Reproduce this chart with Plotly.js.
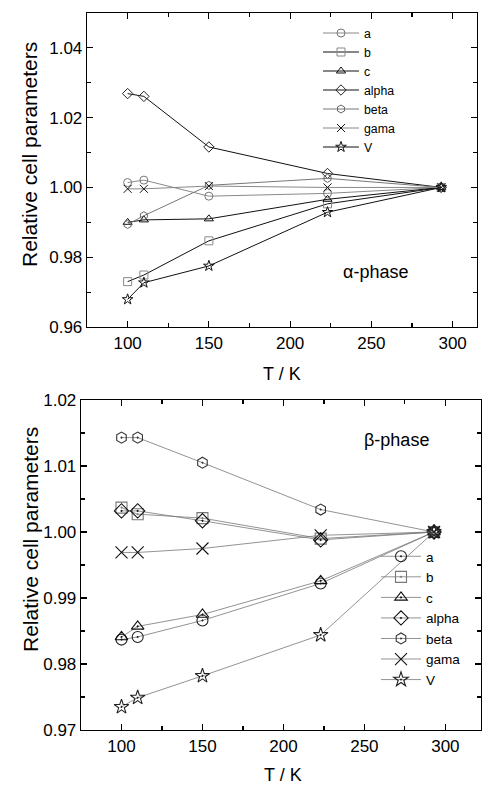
<!DOCTYPE html>
<html><head><meta charset="utf-8">
<script src="https://cdn.plot.ly/plotly-3.0.1.min.js"></script>
<style>html,body{margin:0;padding:0;background:#fff}#c{width:482px;height:785px}</style>
</head><body><div id="c"></div>
<script>
const T = [100, 110, 150, 223, 293];
const names = ['a', 'b', 'c', 'alpha', 'beta', 'gama', 'V'];
// alpha-phase
const topA     = [1.0014, 1.0021, 0.9975, 0.9983, 1.0000];
const topB     = [0.9730, 0.9749, 0.9847, 0.9953, 1.0000];
const topC     = [0.9900, 0.9907, 0.9910, 0.9966, 1.0000];
const topAlpha = [1.0269, 1.0261, 1.0116, 1.0040, 1.0000];
const topBeta  = [0.9894, 0.9919, 1.0006, 1.0026, 1.0000];
const topGama  = [0.9996, 0.9996, 1.0004, 1.0000, 1.0000];
const topV     = [0.9679, 0.9727, 0.9775, 0.9929, 1.0000];
// beta-phase
const botA     = [0.9837, 0.9841, 0.9866, 0.9922, 1.0000];
const botB     = [1.0037, 1.0027, 1.0021, 0.9990, 1.0000];
const botC     = [0.9841, 0.9857, 0.9875, 0.9926, 1.0000];
const botAlpha = [1.0032, 1.0032, 1.0017, 0.9988, 1.0000];
const botBeta  = [1.0143, 1.0143, 1.0105, 1.0034, 1.0000];
const botGama  = [0.9969, 0.9969, 0.9975, 0.9995, 1.0000];
const botV     = [0.9735, 0.9749, 0.9782, 0.9844, 1.0000];

const topSeries = [topA, topB, topC, topAlpha, topBeta, topGama, topV];
const botSeries = [botA, botB, botC, botAlpha, botBeta, botGama, botV];
const topSym = ['circle-open','square-open','triangle-up-open','diamond-open','hexagon-open','x-thin-open','star-open'];
const botSym = ['circle-open-dot','square-open-dot','triangle-up-open-dot','diamond-open-dot','hexagon-open-dot','x-thin-open','star-open-dot'];
const topLine = ['#8a8a8a','#111','#111','#111','#777','#888','#111'];
const topMark = ['#777','#888','#111','#222','#666','#111','#111'];
const botMark = ['#222','#777','#111','#111','#333','#111','#222'];

const F = '"Liberation Sans", Arial, sans-serif';
const traces = [];
names.forEach((n, i) => {
  traces.push({
    x: T, y: topSeries[i], name: n, type: 'scatter', mode: 'lines+markers',
    xaxis: 'x', yaxis: 'y', legend: 'legend',
    line: {color: topLine[i], width: 1},
    marker: {symbol: topSym[i], size: 8, color: topMark[i], line: {color: topMark[i], width: 1}}
  });
});
names.forEach((n, i) => {
  traces.push({
    x: T, y: botSeries[i], name: n, type: 'scatter', mode: 'lines+markers',
    xaxis: 'x2', yaxis: 'y2', legend: 'legend2',
    line: {color: '#777', width: 0.8},
    marker: {symbol: botSym[i], size: (i === 5 ? 12 : 11), color: botMark[i], line: {color: botMark[i], width: 1.1}}
  });
});

const W = 482, H = 785;
const px = v => v / W, py = v => 1 - v / H;
const axBase = {
  showgrid: false, zeroline: false, showline: true, linecolor: '#000', linewidth: 1.3,
  mirror: 'allticks', ticks: 'inside', ticklen: 6, tickwidth: 1.2, tickcolor: '#000',
  tickfont: {family: F, size: 17, color: '#000'}, automargin: false
};
const layout = {
  width: W, height: H, margin: {l: 0, r: 0, t: 0, b: 0},
  paper_bgcolor: '#fff', plot_bgcolor: '#fff', font: {family: F, color: '#000'},
  xaxis: Object.assign({}, axBase, {domain: [px(87), px(477)], range: [75, 315], anchor: 'y',
    tickvals: [100,150,200,250,300], minor: {tickvals: [125,175,225,275], ticks: 'inside', ticklen: 4, tickcolor: '#000'}}),
  yaxis: Object.assign({}, axBase, {domain: [py(327), py(13)], range: [0.96, 1.05], anchor: 'x',
    tickvals: [0.96,0.98,1.00,1.02,1.04], ticktext: ['0.96','0.98','1.00','1.02','1.04'],
    minor: {tickvals: [0.97,0.99,1.01,1.03], ticks: 'inside', ticklen: 4, tickcolor: '#000'}}),
  xaxis2: Object.assign({}, axBase, {domain: [px(81), px(481)], range: [75, 322], anchor: 'y2',
    tickvals: [100,150,200,250,300], minor: {tickvals: [125,175,225,275], ticks: 'inside', ticklen: 4, tickcolor: '#000'}}),
  yaxis2: Object.assign({}, axBase, {domain: [py(730), py(400)], range: [0.97, 1.02], anchor: 'x2',
    tickvals: [0.97,0.98,0.99,1.00,1.01,1.02], ticktext: ['0.97','0.98','0.99','1.00','1.01','1.02'],
    minor: {tickvals: [0.975,0.985,0.995,1.005,1.015], ticks: 'inside', ticklen: 4, tickcolor: '#000'}}),
  showlegend: true,
  legend: {x: px(318), y: py(18.5), xanchor: 'left', yanchor: 'top', bgcolor: 'rgba(0,0,0,0)',
    font: {family: F, size: 12.3, color: '#000'}, itemwidth: 36, tracegroupgap: 0},
  legend2: {x: px(376), y: py(541), xanchor: 'left', yanchor: 'top', bgcolor: 'rgba(0,0,0,0)',
    font: {family: F, size: 13.5, color: '#000'}, itemwidth: 40, tracegroupgap: 0},
  annotations: [
    {text: 'Relative cell parameters', textangle: -90, x: px(30), y: py(155), xref: 'paper', yref: 'paper',
      showarrow: false, font: {family: F, size: 21, color: '#000'}, xanchor: 'center', yanchor: 'middle'},
    {text: 'Relative cell parameters', textangle: -90, x: px(30), y: py(540), xref: 'paper', yref: 'paper',
      showarrow: false, font: {family: F, size: 21, color: '#000'}, xanchor: 'center', yanchor: 'middle'},
    {text: 'T / K', x: px(282), y: py(374), xref: 'paper', yref: 'paper', showarrow: false,
      font: {family: F, size: 18, color: '#000'}, xanchor: 'center', yanchor: 'middle'},
    {text: 'T / K', x: px(283), y: py(775), xref: 'paper', yref: 'paper', showarrow: false,
      font: {family: F, size: 18, color: '#000'}, xanchor: 'center', yanchor: 'middle'},
    {text: 'α-phase', x: px(341), y: py(272), xref: 'paper', yref: 'paper', showarrow: false,
      font: {family: F, size: 18, color: '#000'}, xanchor: 'left', yanchor: 'middle'},
    {text: 'β-phase', x: px(362), y: py(440), xref: 'paper', yref: 'paper', showarrow: false,
      font: {family: F, size: 18, color: '#000'}, xanchor: 'left', yanchor: 'middle'}
  ]
};
Plotly.newPlot('c', traces, layout, {staticPlot: true, displayModeBar: false});
</script></body></html>
